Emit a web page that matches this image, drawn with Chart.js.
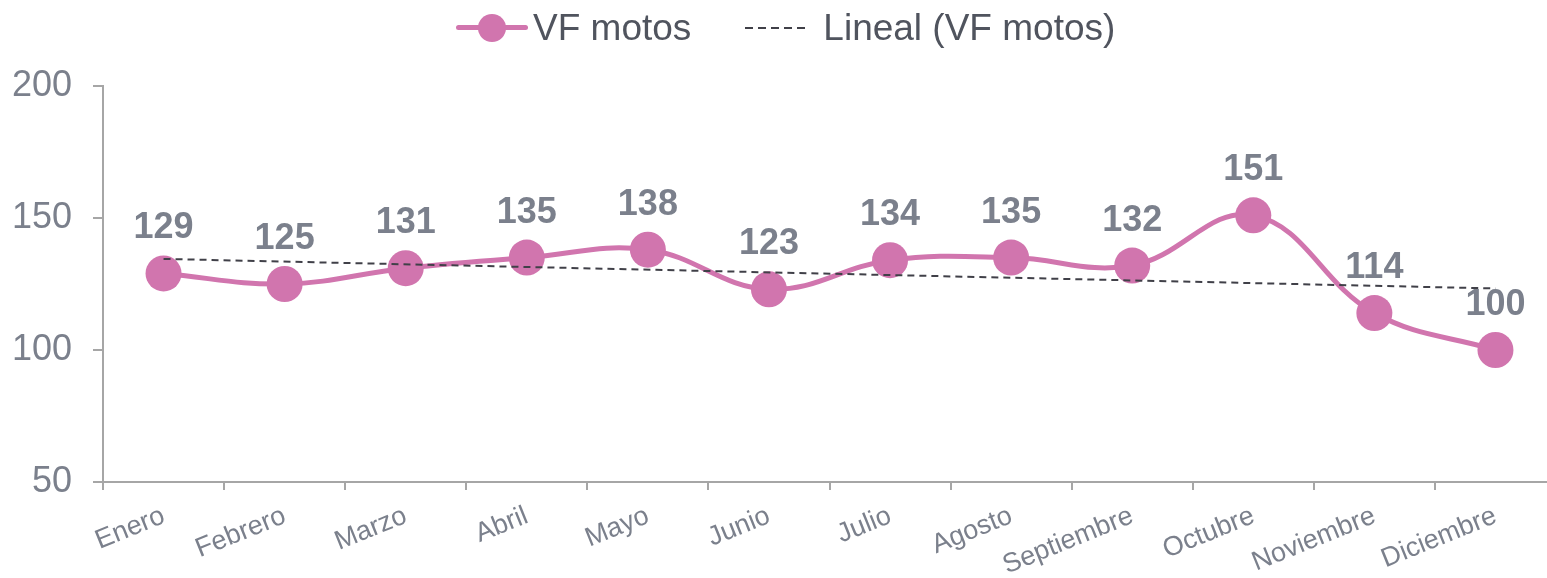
<!DOCTYPE html>
<html>
<head>
<meta charset="utf-8">
<title>VF motos</title>
<script src="https://cdn.jsdelivr.net/npm/chart.js@4/dist/chart.umd.min.js"></script>
<style>
  body { margin: 0; overflow: hidden; background: #fff; }
  #wrap { position: relative; width: 1574px; height: 578px; }
  #legend {
    position: absolute; left: 456px; top: 8px; height: 40px;
    display: flex; align-items: center;
    font-family: "Liberation Sans", Arial, sans-serif; font-size: 37px; line-height: 40px;
    color: #50545e; white-space: nowrap;
  }
</style>
</head>
<body>
<div id="wrap">
  <canvas id="chartCanvas" width="1574" height="578"></canvas>
  <div id="legend"></div>
</div>
<script>
// datos
const months = ['Enero', 'Febrero', 'Marzo', 'Abril', 'Mayo', 'Junio', 'Julio',
  'Agosto', 'Septiembre', 'Octubre', 'Noviembre', 'Diciembre'];
const motos = [129, 125, 131, 135, 138, 123, 134, 135, 132, 151, 114, 100];
const trendEnds = [134.5, 123.3];
const yTicks = [50, 100, 150, 200];

const pink = '#d175ae';
const labelGray = '#7b808c';
const axisGray = '#a6a6a6';
const trendColor = '#404048';
const font = '"Liberation Sans", Arial, sans-serif';

// la tendencia solo tiene el primer y ultimo punto, el resto se salta
let trendData = months.map((m, i) => {
  if (i === 0) return trendEnds[0];
  if (i === months.length - 1) return trendEnds[1];
  return null;
});

// etiquetas de valor encima de cada punto
const valueLabels = {
  id: 'valueLabels',
  afterDatasetsDraw(chart) {
    let ctx = chart.ctx;
    let meta = chart.getDatasetMeta(0);
    ctx.save();
    ctx.font = 'bold 36px ' + font;
    ctx.fillStyle = labelGray;
    ctx.textAlign = 'center';
    ctx.textBaseline = 'alphabetic';
    meta.data.forEach((pt, i) => {
      ctx.fillText(String(chart.data.datasets[0].data[i]), pt.x, pt.y - 35);
    });
    ctx.restore();
  }
};

var ctx = document.getElementById('chartCanvas').getContext('2d');
var currentChart = new Chart(ctx, {
  type: 'line',
  data: {
    labels: months,
    datasets: [{
      label: 'VF motos',
      data: motos,
      borderColor: pink,
      backgroundColor: pink,
      borderWidth: 5,
      pointRadius: 18,
      pointHoverRadius: 18,
      pointBorderWidth: 0,
      tension: 0.4,
      order: 1
    }, {
      label: 'Lineal (VF motos)',
      data: trendData,
      spanGaps: true,
      borderColor: trendColor,
      borderWidth: 2,
      borderDash: [7, 5],
      pointRadius: 0,
      tension: 0,
      order: 0
    }]
  },
  options: {
    responsive: false,
    animation: false,
    layout: { padding: { top: 86, left: 0, right: 0, bottom: 0 } },
    plugins: {
      legend: { display: false },
      tooltip: { enabled: false }
    },
    scales: {
      x: {
        offset: true,
        afterFit: s => { s.height = 96; },
        border: { color: axisGray, width: 2 },
        grid: { offset: true, drawOnChartArea: false, drawTicks: true, tickLength: 8, color: axisGray, lineWidth: 2 },
        ticks: {
          autoSkip: false, minRotation: 22, maxRotation: 22, padding: 10,
          color: labelGray, font: { family: font, size: 27 }
        }
      },
      y: {
        min: yTicks[0],
        max: yTicks[yTicks.length - 1],
        afterFit: s => { s.width = 103; },
        afterBuildTicks: s => { s.ticks = yTicks.map(v => ({ value: v })); },
        border: { color: axisGray, width: 2 },
        grid: { drawOnChartArea: false, drawTicks: true, tickLength: 10, color: axisGray, lineWidth: 2 },
        ticks: { padding: 21, color: labelGray, font: { family: font, size: 36 } }
      }
    }
  },
  plugins: [valueLabels]
});

// leyenda en HTML, con los nombres de las series del grafico
function buildLegend(chart) {
  let legendEl = document.getElementById('legend');
  legendEl.innerHTML = '';
  let ds = chart.data.datasets;

  // marcador linea + circulo
  let mark1 = document.createElement('span');
  mark1.style.cssText = 'position:relative;display:inline-block;width:72px;height:40px;';
  let line1 = document.createElement('span');
  line1.style.cssText = 'position:absolute;left:0;top:17px;width:72px;height:5px;border-radius:3px;background:' + ds[0].borderColor;
  let dot = document.createElement('span');
  dot.style.cssText = 'position:absolute;left:22px;top:6px;width:28px;height:28px;border-radius:50%;background:' + ds[0].borderColor;
  mark1.appendChild(line1);
  mark1.appendChild(dot);
  let text1 = document.createElement('span');
  text1.textContent = ds[0].label;
  text1.style.marginLeft = '5px';

  // marcador punteado
  let mark2 = document.createElement('span');
  mark2.style.cssText = 'display:inline-block;width:64px;height:2px;margin-left:54px;' +
    'background:repeating-linear-gradient(to right,' + ds[1].borderColor + ' 0 8px, transparent 8px 13px);';
  let text2 = document.createElement('span');
  text2.textContent = ds[1].label;
  text2.style.marginLeft = '14px';

  [mark1, text1, mark2, text2].forEach(el => legendEl.appendChild(el));
}
buildLegend(currentChart);
</script>
</body>
</html>
